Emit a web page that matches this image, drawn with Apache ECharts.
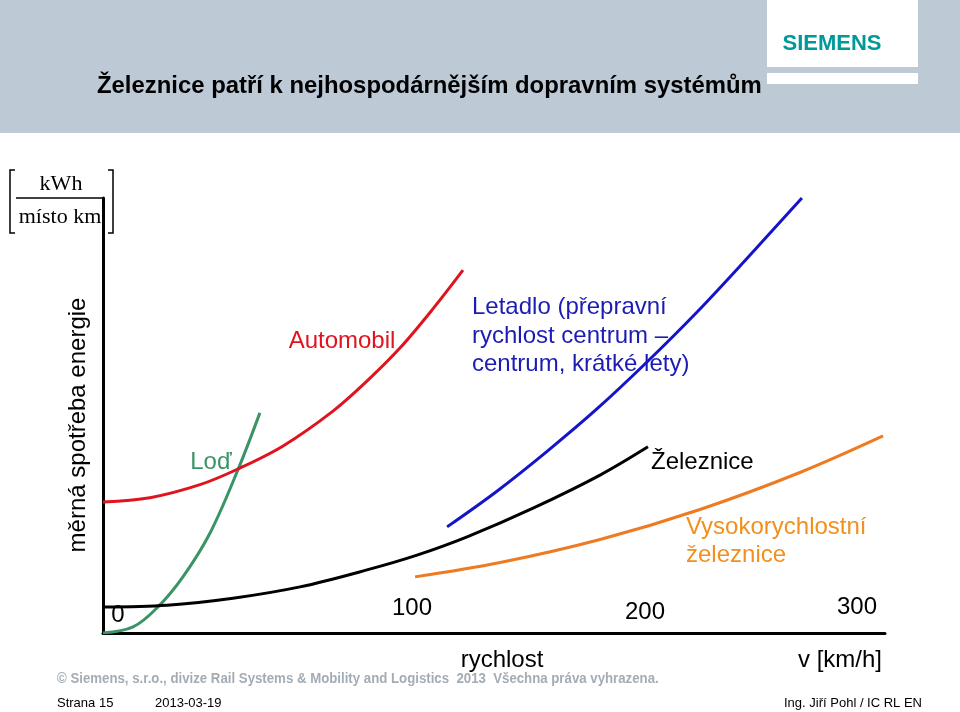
<!DOCTYPE html>
<html><head><meta charset="utf-8">
<script src="https://cdn.jsdelivr.net/npm/echarts@6/dist/echarts.min.js"></script>
<style>html,body{margin:0;padding:0;background:#fff}#c{width:960px;height:712px}</style>
</head><body><div id="c"></div>
<script>
// ---- data (schematic units: speed 0..320, energy 0..100) ----
const lodX = [0, 12.3, 22.5, 32.7, 43.8, 55.2, 64.2];
const lodY = [0, 1.4, 6.0, 12.9, 23.0, 37.5, 50.6];
const autoX = [0, 19.2, 39.7, 55.2, 73.7, 94.1, 108.0, 121.5, 135.0, 147.3];
const autoY = [30.1, 31.1, 34.1, 37.7, 43.0, 51.0, 57.9, 65.5, 74.5, 83.4];
const letadloX = [140.8, 161.2, 181.6, 202.1, 222.6, 243.1, 263.5, 286.0];
const letadloY = [24.4, 32.6, 41.7, 51.5, 62.3, 73.8, 86.1, 100];
const zelX = [0, 26.2, 53.2, 80.6, 108.0, 128.5, 149.0, 176.0, 203.4, 223.0];
const zelY = [6.0, 6.4, 8.0, 10.6, 14.5, 17.9, 22.1, 28.7, 36.3, 42.8];
const vrtX = [127.7, 162.5, 203.4, 244.3, 285.2, 319.2];
const vrtY = [12.9, 16.2, 21.5, 28.4, 36.9, 45.3];
const tickLabels = ['0', '100', '200', '300'];
const seriesNames = ['Loď', 'Automobil', 'Letadlo', 'Železnice', 'Vysokorychlostní železnice'];

const FONT = '"Liberation Sans", Arial, sans-serif';
const zip = (xs, ys) => xs.map((x, i) => [x, ys[i]]);

function lineSeries(name, xs, ys, color) {
  return {
    name, type: 'line', data: zip(xs, ys), smooth: 0.35, showSymbol: false,
    lineStyle: { color, width: 3 }, silent: true, animation: false, z: 3
  };
}

function txt(text, x, y, opt) {
  opt = opt || {};
  return {
    type: 'text', x, y, silent: true, z: 10,
    scaleX: opt.scaleX || 1,
    style: {
      text, fill: opt.fill || '#000',
      font: (opt.weight || 'normal') + ' ' + (opt.size || 24) + 'px ' + (opt.family || FONT),
      textAlign: opt.align || 'left', textVerticalAlign: 'middle',
      lineHeight: opt.lh || undefined
    }
  };
}

const chart = echarts.init(document.getElementById('c'), null, { renderer: 'canvas' });

const graphics = [
  // header band
  { type: 'rect', shape: { x: 0, y: 0, width: 960, height: 133 }, style: { fill: '#bdc9d5' }, z: 0, silent: true },
  { type: 'rect', shape: { x: 767, y: 0, width: 151, height: 67 }, style: { fill: '#ffffff' }, z: 1, silent: true },
  { type: 'rect', shape: { x: 767, y: 73, width: 151, height: 11 }, style: { fill: '#ffffff' }, z: 1, silent: true },
  txt('SIEMENS', 832, 44, { fill: '#009999', size: 22, weight: 'bold', align: 'center' }),
  txt('Železnice patří k nejhospodárnějším dopravním systémům', 97, 86, { size: 24, weight: 'bold', scaleX: 0.995 }),
  // unit bracket
  txt('kWh', 61, 184, { size: 22, family: '"Liberation Serif", "Times New Roman", serif', align: 'center' }),
  txt('místo km', 60, 217, { size: 22, family: '"Liberation Serif", "Times New Roman", serif', align: 'center' }),
  { type: 'line', shape: { x1: 16, y1: 198, x2: 103, y2: 198 }, style: { stroke: '#000', lineWidth: 1.5 }, silent: true },
  { type: 'polyline', shape: { points: [[15, 170], [10, 170], [10, 233], [15, 233]] }, style: { stroke: '#000', lineWidth: 1.5, fill: null }, silent: true },
  { type: 'polyline', shape: { points: [[108, 170], [113, 170], [113, 233], [108, 233]] }, style: { stroke: '#000', lineWidth: 1.5, fill: null }, silent: true },
  // y axis name
  {
    type: 'text', x: 78, y: 425, rotation: Math.PI / 2, silent: true,
    style: { text: 'měrná spotřeba energie', font: '24px ' + FONT, fill: '#000', textAlign: 'center', textVerticalAlign: 'middle' }
  },
  // tick labels
  txt(tickLabels[0], 118, 615, { align: 'center' }),
  txt(tickLabels[1], 412, 608, { align: 'center' }),
  txt(tickLabels[2], 645, 612, { align: 'center' }),
  txt(tickLabels[3], 857, 607, { align: 'center' }),
  // axis titles
  txt('rychlost', 502, 660, { align: 'center' }),
  txt('v [km/h]', 840, 660, { align: 'center' }),
  // series labels
  txt('Loď', 211, 462, { fill: '#3a9466', align: 'center' }),
  txt('Automobil', 342, 341, { fill: '#e0141e', align: 'center' }),
  txt('Letadlo (přepravní\nrychlost centrum –\ncentrum, krátké lety)', 472, 336, { fill: '#1c1cb4', lh: 28.5 }),
  txt('Železnice', 651, 462, {}),
  txt('Vysokorychlostní\nželeznice', 686, 541, { fill: '#f0901e', lh: 28 }),
  // footer
  txt('© Siemens, s.r.o., divize Rail Systems & Mobility and Logistics  2013  Všechna práva vyhrazena.', 57, 679, { fill: '#a3acb5', size: 14, weight: 'bold', scaleX: 0.945 }),
  txt('Strana 15', 57, 703, { size: 13 }),
  txt('2013-03-19', 155, 703, { size: 13 }),
  txt('Ing. Jiří Pohl / IC RL EN', 922, 703, { size: 13, align: 'right' })
];

chart.setOption({
  animation: false,
  backgroundColor: '#ffffff',
  grid: { left: 103, right: 75, top: 198, bottom: 79, containLabel: false },
  xAxis: {
    type: 'value', min: 0, max: 320,
    axisLine: { show: true, onZero: false, lineStyle: { color: '#000', width: 3 } },
    axisTick: { show: false }, axisLabel: { show: false }, splitLine: { show: false }
  },
  yAxis: {
    type: 'value', min: 0, max: 100,
    axisLine: { show: true, onZero: false, lineStyle: { color: '#000', width: 3 } },
    axisTick: { show: false }, axisLabel: { show: false }, splitLine: { show: false }
  },
  series: [
    lineSeries(seriesNames[0], lodX, lodY, '#3a9466'),
    lineSeries(seriesNames[1], autoX, autoY, '#e0141e'),
    lineSeries(seriesNames[2], letadloX, letadloY, '#1414c8'),
    lineSeries(seriesNames[3], zelX, zelY, '#000000'),
    lineSeries(seriesNames[4], vrtX, vrtY, '#ee7a22')
  ],
  graphic: graphics
});
</script>
</body></html>
